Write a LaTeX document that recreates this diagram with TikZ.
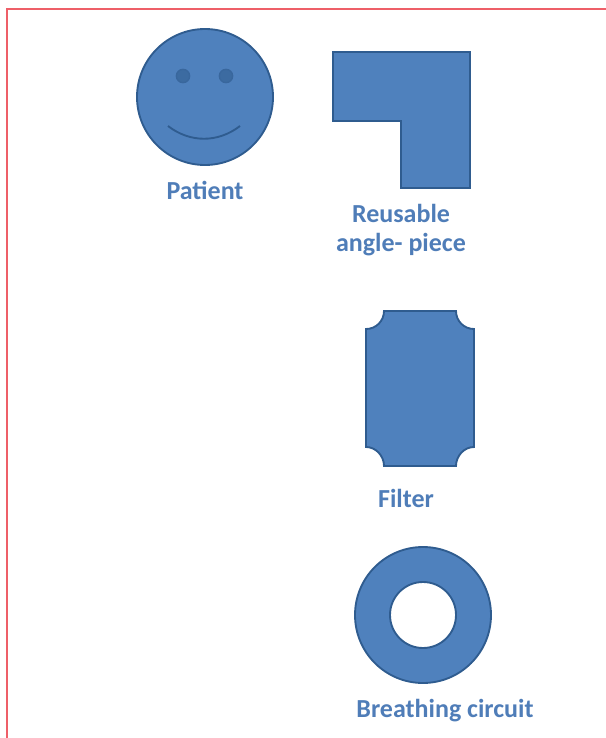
\documentclass[tikz,border=0pt]{standalone}
\usepackage{fontspec}
\setmainfont{Carlito}
\usetikzlibrary{positioning}
\definecolor{shapefill}{HTML}{4F81BD}
\definecolor{shapeline}{HTML}{2F5C8F}
\definecolor{labeltext}{HTML}{4F7DB8}
\definecolor{frameline}{HTML}{EE5F68}

\begin{document}
\begin{tikzpicture}[
    x=0.75pt,y=-0.75pt,
    part/.style={fill=shapefill,draw=shapeline,line width=1.4pt},
    disc/.style={circle,part,inner sep=0pt,minimum size=102pt},
    eye/.style={circle,draw=shapeline!70!shapefill,fill=shapeline!60!shapefill,line width=1pt,inner sep=0pt,minimum size=10pt},
    lbl/.style={text=labeltext,font=\fontsize{19.5}{22}\selectfont\bfseries,inner sep=0pt}
]
\useasboundingbox (0,0) rectangle (606,738);
\draw[frameline,line width=1.5pt] (6.5,738) -- (6.5,9.5) -- (606,9.5);

\node[disc] (patient) at (205,97) {};
\node[eye] (eyeL) at (183,76) {};
\node[eye] (eyeR) at (226,76) {};
\coordinate (smileL) at (168,126);
\coordinate (smileR) at (240,126);
\draw[shapeline,line width=1.4pt] (smileL) .. controls (190,143) and (218,143) .. (smileR);
\node[lbl] (patientlbl) at (205,190) {Patient};

\draw[part] (333,52) -- (470,52) -- (470,188) -- (401,188) -- (401,121) -- (333,121) -- cycle;
\node[lbl] (anglelbl1) at (401,213) {Reusable};
\node[lbl] (anglelbl2) at (401,245) {angle- piece};

% filter with hollowed corners
\draw[part] (384,311) -- (456,311) .. controls (456,321) and (464,329) .. (474,329)
    -- (474,447) .. controls (464,447) and (456,456) .. (456,466)
    -- (384,466) .. controls (384,456) and (376,447) .. (366,447)
    -- (366,329) .. controls (376,329) and (384,321) .. (384,311) -- cycle;
\node[lbl] (filterlbl) at (406,498) {Filter};

\node[disc] (circuit) at (423,615) {};
\node[circle,draw=shapeline,fill=white,line width=1.4pt,inner sep=0pt,minimum size=49.5pt] (hole) at (423,615) {};
\node[lbl] (circuitlbl) at (445,711) {Breathing circuit};
\end{tikzpicture}
\end{document}
